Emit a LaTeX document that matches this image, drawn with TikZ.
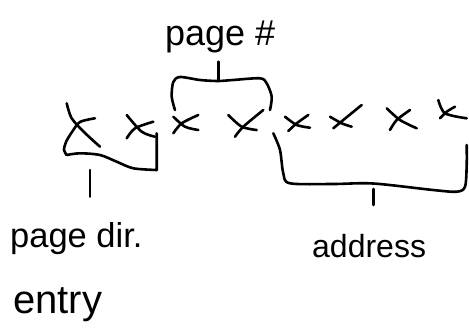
\documentclass[tikz,border=0pt]{standalone}
\usepackage{fontspec}
\setmainfont{Liberation Sans}
\begin{document}
\begin{tikzpicture}[x=1pt,y=-1pt,
  ink/.style={line width=2.6pt,line cap=round,line join=round},
  lbl/.style={inner sep=0pt,anchor=base west}]
\useasboundingbox (0,0) rectangle (469,330);
% X marks
\draw[ink] plot[smooth] coordinates {(66.7,103.3) (71.7,118.3) (85,133) (100,146.7)};
\draw[ink] plot[smooth] coordinates {(95,118.3) (80,122) (72,132) (66,142) (64,150) (66.7,155)};
\draw[ink] plot[smooth] coordinates {(126.7,115) (141.7,131.7) (155,136.7)};
\draw[ink] plot[smooth] coordinates {(126.7,138.3) (135,128.3) (153.3,121.7)};
\draw[ink] plot[smooth] coordinates {(173.3,116.7) (185,126.7) (198.3,130)};
\draw[ink] plot[smooth] coordinates {(173.3,133.3) (181.7,123.3) (198.3,115)};
\draw[ink] plot[smooth] coordinates {(228.3,115) (241.7,126.7) (256.7,130)};
\draw[ink] plot[smooth] coordinates {(235,136.7) (243.3,126.7) (263.3,110)};
\draw[ink] plot[smooth] coordinates {(285,116.7) (296.7,125) (310,127.7)};
\draw[ink] plot[smooth] coordinates {(288.3,131) (296.7,123.3) (308.3,115)};
\draw[ink] plot[smooth] coordinates {(330,116.7) (341.7,123.3) (351.7,126.7)};
\draw[ink] plot[smooth] coordinates {(333.3,128.3) (343.3,120) (361.7,105)};
\draw[ink] plot[smooth] coordinates {(386.7,108.3) (400,120) (416.7,128.3)};
\draw[ink] plot[smooth] coordinates {(390,130) (396.7,120) (410,110)};
\draw[ink] plot[smooth] coordinates {(438.3,100) (445,113.3) (466.7,118.3)};
\draw[ink] plot[smooth] coordinates {(440,118.3) (446.7,111.7) (455,106.7)};
% brackets
\draw[ink] plot[smooth] coordinates {(175,110) (171.7,96.7) (173.3,82) (180,77) (200,80) (218,81) (233,80) (260,78.3) (266.7,83.3) (271.7,96.7) (270,110)};
\draw[ink] plot[smooth] coordinates {(66.7,155) (80,153.3) (100,155) (116.7,161.7) (133.3,168.3) (156.7,170)} -- (156.7,133.3);
\draw[ink] plot[smooth] coordinates {(273.3,133.3) (280,150) (283.3,173.3) (290,183.3) (333,184) (373.3,183.5) (433,190) (456.7,191.7) (465,186.7) (466.7,165) (466.7,145)};
% stem coordinates
\coordinate (pt) at (218.3,61.7); \coordinate (pb) at (218.3,80);
\coordinate (lt) at (90,170); \coordinate (lb) at (90,196.7);
\coordinate (rt) at (373.3,189); \coordinate (rb) at (373.3,205);
% labels
\node[lbl,font=\fontsize{36}{40}\selectfont] (pagehash) at (165,45) {page \#};
\node[lbl,font=\fontsize{34.5}{40}\selectfont] (pagedir) at (10,247) {page dir.};
\node[lbl,font=\fontsize{40}{44}\selectfont] (entry) at (13,313) {entry};
\node[lbl,font=\fontsize{32}{40}\selectfont] (address) at (312,257) {address};
% stems
\draw[ink] (pt) -- (pb);
\draw[ink] (lt) -- (lb);
\draw[ink] (rt) -- (rb);
\end{tikzpicture}
\end{document}
